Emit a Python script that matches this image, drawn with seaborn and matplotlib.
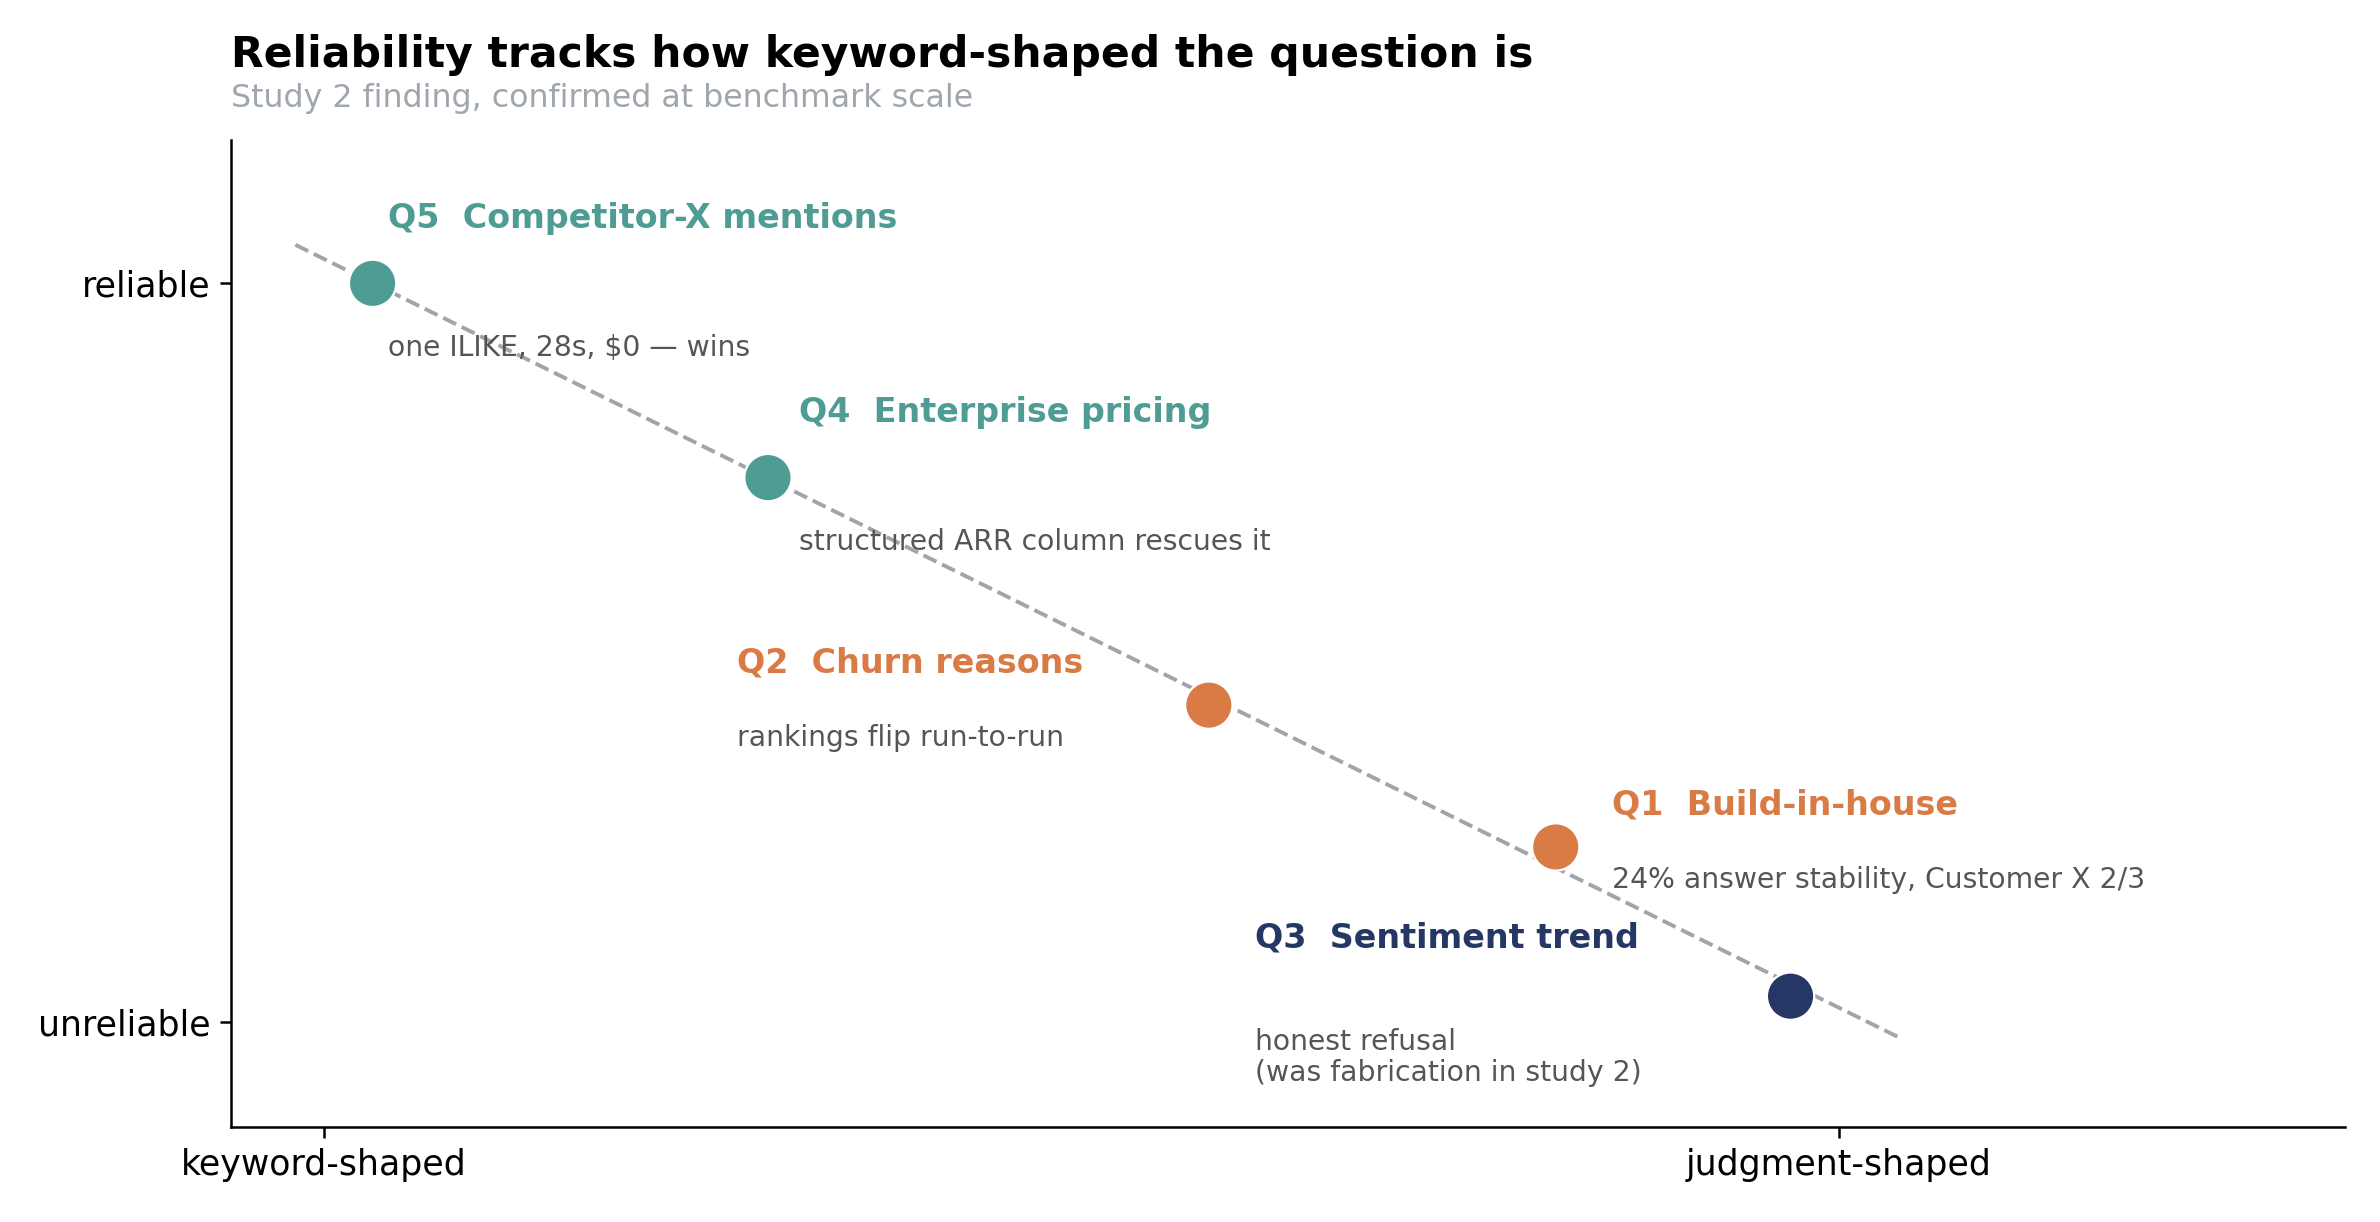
import matplotlib
matplotlib.use('Agg')
import numpy as np
import pandas as pd
import matplotlib.pyplot as plt
import seaborn as sns

# Questions placed on keyword-shaped (0) -> judgment-shaped (1) vs reliability (1 = reliable)
questions = ["Q5", "Q4", "Q2", "Q1", "Q3"]
titles = ["Competitor-X mentions", "Enterprise pricing", "Churn reasons",
          "Build-in-house", "Sentiment trend"]
notes = ["one ILIKE, 28s, $0 — wins",
         "structured ARR column rescues it",
         "rankings flip run-to-run",
         "24% answer stability, Customer X 2/3",
         "honest refusal\n(was fabrication in study 2)"]
shape = [0.032, 0.293, 0.584, 0.813, 0.968]
reliability = [1.0, 0.737, 0.429, 0.237, 0.035]
group = ["ok", "ok", "flaky", "flaky", "refuse"]

palette = {"ok": "#4E9C94", "flaky": "#D97B45", "refuse": "#253865"}

# label anchors (data coords): title x, title y, note y
label_pos = [
    (0.042, 1.088, 0.912),
    (0.3135, 0.825, 0.650),
    (0.2726, 0.486, 0.384),
    (0.850, 0.294, 0.192),
    (0.6145, 0.114, -0.048),
]

df = pd.DataFrame({"q": questions, "x": shape, "y": reliability, "group": group})

sns.set_theme(style="ticks")
plt.rcParams['font.family'] = ['DejaVu Sans']

fig = plt.figure(figsize=(11.9, 6.11), dpi=200)
ax = fig.add_axes([0.0971, 0.0778, 0.8882, 0.8076])

# trend line
slope, intercept = np.polyfit(df["x"], df["y"], 1)
xs = np.array([-0.019, 1.042])
ax.plot(xs, slope * xs + intercept, ls="--", color="#A3A3AA", lw=1.4, zorder=1)

sns.scatterplot(data=df, x="x", y="y", hue="group", palette=palette, s=290,
                edgecolor="white", linewidth=0.8, legend=False, zorder=3, ax=ax)

for i in range(len(questions)):
    tx, ty, ny = label_pos[i]
    c = palette[group[i]]
    ax.text(tx, ty, f"{questions[i]}  {titles[i]}", color=c, fontsize=12,
            fontweight="bold", ha="left", va="center")
    ax.text(tx, ny, notes[i], color="#555555", fontsize=10.2, ha="left",
            va="center", linespacing=1.1)

ax.set_xlim(-0.0614, 1.334)
ax.set_ylim(-0.142, 1.194)
ax.set_xticks([0, 1])
ax.set_xticklabels(["keyword-shaped", "judgment-shaped"], fontsize=12.5)
ax.set_yticks([0, 1])
ax.set_yticklabels(["unreliable", "reliable"], fontsize=12.5)
ax.set_xlabel("")
ax.set_ylabel("")
ax.tick_params(colors="black", width=0.9, length=4)
for s in ["left", "bottom"]:
    ax.spines[s].set_color("black")
    ax.spines[s].set_linewidth(0.9)
sns.despine(ax=ax)

fig.text(0.0971, 0.9452, "Reliability tracks how keyword-shaped the question is",
         fontsize=15.3, fontweight="bold", color="black", ha="left", va="baseline")
fig.text(0.0971, 0.9124, "Study 2 finding, confirmed at benchmark scale",
         fontsize=11.4, color="#A0A6AE", ha="left", va="baseline")

fig.savefig("out.png", dpi=200)
